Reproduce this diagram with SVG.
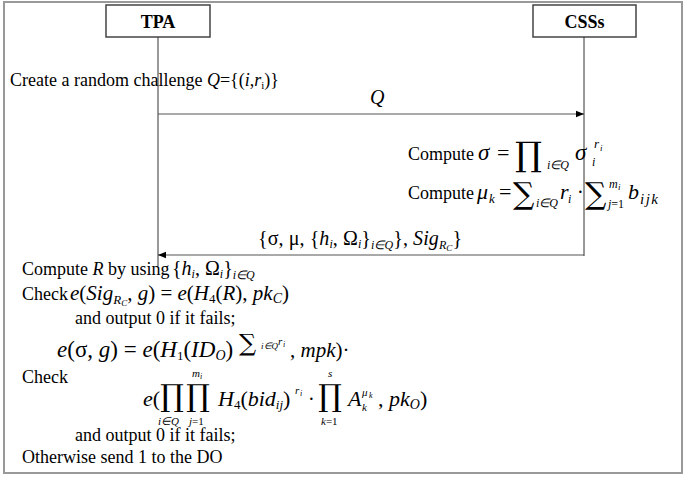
<svg xmlns="http://www.w3.org/2000/svg" width="690" height="480" viewBox="0 0 690 480" font-family="'Liberation Serif', 'Times New Roman', serif">
<defs>
<style>
text{font-family:"Liberation Serif","Times New Roman",serif;fill:#000}
.t{font-size:18px}
.m{font-size:20px}
.i{font-style:italic}
.box{fill:#fff;stroke:#444;stroke-width:1.5}
.life{stroke:#333;stroke-width:1}
.msg{stroke:#555;stroke-width:1.2;fill:none}
.big{font-family:"DejaVu Serif","Liberation Serif",serif}
</style>
<marker id="ah" viewBox="0 0 10 10" refX="10" refY="5" markerWidth="9" markerHeight="8" markerUnits="userSpaceOnUse" orient="auto">
<path d="M0,1 L10,5 L0,9 z" fill="#000"/>
</marker>
</defs>
<rect x="0" y="0" width="690" height="480" fill="#fff"/>
<rect id="frame" x="4" y="2" width="678" height="471" fill="none" stroke="#999" stroke-width="2"/>

<g id="tpa">
<rect class="box" x="106" y="5" width="104" height="32"/>
<text x="158" y="28" font-size="18" font-weight="bold" text-anchor="middle">TPA</text>
</g>
<g id="css">
<rect class="box" x="533" y="5" width="103" height="32"/>
<text x="584.5" y="28" font-size="18" font-weight="bold" text-anchor="middle">CSSs</text>
</g>

<g id="connectors">
<line class="life" x1="158" y1="37" x2="158" y2="266"/>
<line class="life" x1="584" y1="37" x2="584" y2="256"/>
<line class="msg" x1="158" y1="114" x2="584" y2="114" marker-end="url(#ah)"/>
<line class="msg" x1="584" y1="255" x2="158" y2="255" marker-end="url(#ah)"/>
</g>

<g id="labels">
<text class="t" x="10" y="86">Create a random challenge <tspan class="i">Q</tspan>={(<tspan class="i">i</tspan>,<tspan class="i">r</tspan><tspan font-size="11" dy="3">i</tspan><tspan dy="-3">)}</tspan></text>
<text class="m i" x="370" y="104">Q</text>

<text class="t" x="408" y="160">Compute</text>
<text class="i" x="478" y="160" font-size="23">σ</text>
<text x="497" y="160" font-size="22">=</text>
<text class="big" x="515" y="166" font-size="34">∏</text>
<text class="i" x="547" y="169" font-size="12">i∈Q</text>
<text class="i" x="575" y="160" font-size="23">σ</text>
<text class="i" x="594" y="148" font-size="13">r</text>
<text class="i" x="600" y="151" font-size="9">i</text>
<text class="i" x="592" y="166" font-size="12">i</text>

<text class="t" x="408" y="199">Compute</text>
<text class="i" x="477" y="199" font-size="22">μ</text>
<text class="i" x="489" y="203" font-size="13">k</text>
<text x="499" y="199" font-size="22">=</text>
<text class="big" x="513" y="204" font-size="30">∑</text>
<text class="i" x="536" y="207" font-size="12">i∈Q</text>
<text class="i" x="560" y="199" font-size="22">r</text>
<text class="i" x="568" y="203" font-size="12">i</text>
<text x="577" y="199" font-size="20">·</text>
<text class="big" x="585" y="204" font-size="30">∑</text>
<text class="i" x="609" y="188" font-size="12">m</text>
<text class="i" x="618" y="190" font-size="9">i</text>
<text x="608" y="208" font-size="12"><tspan class="i">j</tspan>=1</text>
<text class="i" x="628" y="199" font-size="22">b</text>
<text class="i" x="640" y="204" font-size="15" letter-spacing="1.5">ijk</text>

<text class="m" x="258" y="245" textLength="204" lengthAdjust="spacing">{σ, μ, {<tspan class="i">h</tspan><tspan font-size="12" dy="3" class="i">i</tspan><tspan dy="-3">, Ω</tspan><tspan font-size="12" dy="3" class="i">i</tspan><tspan dy="-3">}</tspan><tspan font-size="12" dy="4" class="i">i∈Q</tspan><tspan dy="-4">}, </tspan><tspan class="i">Sig</tspan><tspan font-size="12" dy="4" class="i">R</tspan><tspan font-size="9" dy="2" class="i">C</tspan><tspan dy="-6">}</tspan></text>

<text class="t" x="22" y="275">Compute <tspan class="i">R</tspan> by using</text>
<text class="m" x="172" y="275">{<tspan class="i">h</tspan><tspan font-size="12" dy="3" class="i">i</tspan><tspan dy="-3">, Ω</tspan><tspan font-size="12" dy="3" class="i">i</tspan><tspan dy="-3">}</tspan><tspan font-size="12" dy="4" class="i">i∈Q</tspan></text>

<text class="t" x="22" y="300">Check</text>
<text x="70" y="300" font-size="21"><tspan class="i">e</tspan>(<tspan class="i">Sig</tspan><tspan font-size="13" dy="4" class="i">R</tspan><tspan font-size="9" dy="2" class="i">C</tspan><tspan dy="-6">, </tspan><tspan class="i">g</tspan>) = <tspan class="i">e</tspan>(<tspan class="i">H</tspan><tspan font-size="13" dy="3">4</tspan><tspan dy="-3">(</tspan><tspan class="i">R</tspan>), <tspan class="i">pk</tspan><tspan font-size="14" dy="3" class="i">C</tspan><tspan dy="-3">)</tspan></text>

<text class="t" x="75" y="324">and output 0 if it fails;</text>

<text x="57" y="357" font-size="23"><tspan class="i">e</tspan>(σ, <tspan class="i">g</tspan>) = <tspan class="i">e</tspan>(<tspan class="i">H</tspan><tspan font-size="13" dy="3">1</tspan><tspan dy="-3">(</tspan><tspan class="i">ID</tspan><tspan font-size="14" dy="3" class="i">O</tspan><tspan dy="-3">)</tspan></text>
<text class="big" x="239" y="351" font-size="24">∑</text>
<text class="i" x="261" y="349" font-size="9">i∈Q</text>
<text class="i" x="278" y="345" font-size="11">r</text>
<text class="i" x="283" y="347" font-size="8">i</text>
<text x="290" y="357" font-size="21">, <tspan class="i">mpk</tspan>)·</text>

<text class="t" x="22" y="383">Check</text>

<text x="143" y="406" font-size="22"><tspan class="i">e</tspan>(</text>
<text class="big" x="160" y="406" font-size="30">∏</text>
<text class="big" x="186" y="406" font-size="30">∏</text>
<text class="i" x="158" y="425" font-size="11">i∈Q</text>
<text x="189" y="425" font-size="11"><tspan class="i">j</tspan>=1</text>
<text class="i" x="192" y="377" font-size="11">m</text>
<text class="i" x="200" y="379" font-size="8">i</text>
<text x="218" y="406" font-size="22"><tspan class="i">H</tspan><tspan font-size="13" dy="3">4</tspan><tspan dy="-3">(</tspan><tspan class="i">bid</tspan><tspan font-size="13" dy="3" class="i">ij</tspan><tspan dy="-3">)</tspan></text>
<text class="i" x="295" y="394" font-size="11">r</text>
<text class="i" x="300" y="396" font-size="8">i</text>
<text x="308" y="406" font-size="20">·</text>
<text class="big" x="318" y="406" font-size="30">∏</text>
<text class="i" x="328" y="377" font-size="11">s</text>
<text x="321" y="425" font-size="11"><tspan class="i">k</tspan>=1</text>
<text class="i" x="348" y="406" font-size="22">A</text>
<text class="i" x="362" y="411" font-size="11">k</text>
<text class="i" x="362" y="396" font-size="11">μ</text>
<text class="i" x="369" y="398" font-size="8">k</text>
<text x="378" y="406" font-size="22">, <tspan class="i">pk</tspan><tspan font-size="14" dy="3" class="i">O</tspan><tspan dy="-3">)</tspan></text>

<text class="t" x="75" y="441">and output 0 if it fails;</text>
<text class="t" x="22" y="463">Otherwise send 1 to the DO</text>
</g>
</svg>
